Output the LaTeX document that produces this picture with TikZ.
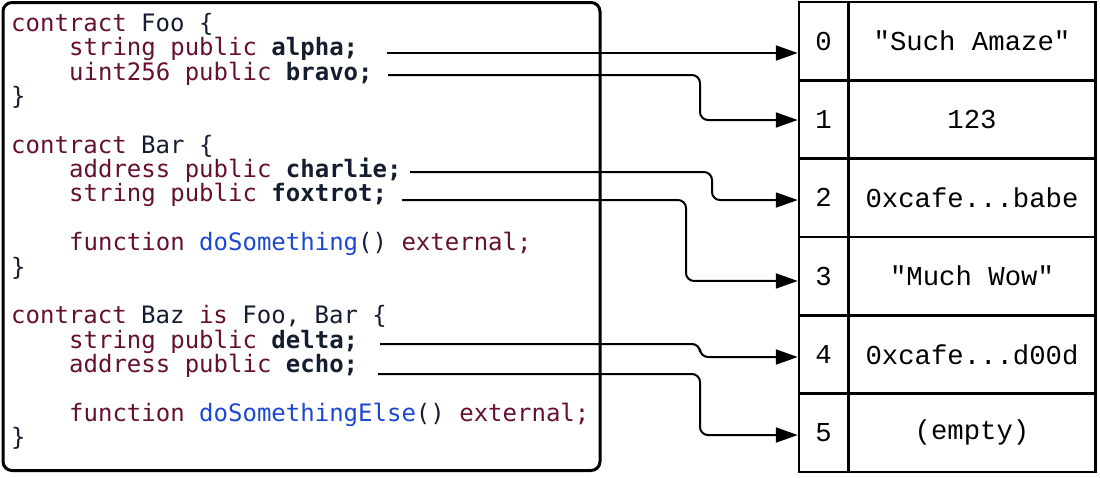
\documentclass[tikz,border=0pt]{standalone}
\usepackage{fontspec}
\setmainfont{Liberation Mono}
\newfontfamily\codefont{DejaVu Sans Mono}
\newfontfamily\tabfont{Liberation Mono}
\usetikzlibrary{arrows.meta}
\definecolor{kwc}{RGB}{102,16,48}
\definecolor{nmc}{RGB}{20,28,48}
\definecolor{fnc}{RGB}{28,72,208}
\newcommand\kw[1]{\textcolor{kwc}{#1}}
\newcommand\nm[1]{\textcolor{nmc}{#1}}
\newcommand\fnn[1]{\textcolor{fnc}{#1}}
\newcommand\idf[1]{\textcolor{nmc}{\bfseries #1}}
\tikzset{
  codeline/.style={anchor=base west, inner sep=0pt, font=\codefont\fontsize{24}{24}\selectfont},
  codebox/.style={draw, line width=3pt, rounded corners=9pt, minimum width=597pt, minimum height=468pt, inner sep=0pt},
  cell/.style={draw, line width=2.5pt, minimum height=78.33pt, inner sep=0pt, font=\tabfont\fontsize{27.3}{28}\selectfont},
  idxcell/.style={cell, minimum width=49pt},
  valcell/.style={cell, minimum width=247pt},
  arr/.style={line width=2pt, rounded corners=8pt, -{Triangle[length=22pt,width=15pt]}}
}
\begin{document}
\begin{tikzpicture}[x=1pt,y=-1pt]
\useasboundingbox (0,0) rectangle (1100,477);
% code box
\node[codebox] (code) at (301.5,236.5) {};
% code lines
\node[codeline] (l1) at (11,31.5) {\kw{contract} \nm{Foo \{}};
\node[codeline] (l2) at (69,55.85) {\kw{string public} \idf{alpha;}};
\node[codeline] (l3) at (69,80.2) {\kw{uint256 public} \idf{bravo;}};
\node[codeline] (l4) at (11,104.55) {\nm{\}}};
\node[codeline] (l6) at (11,153.25) {\kw{contract} \nm{Bar \{}};
\node[codeline] (l7) at (69,177.6) {\kw{address public} \idf{charlie;}};
\node[codeline] (l8) at (69,201.95) {\kw{string public} \idf{foxtrot;}};
\node[codeline] (l10) at (69,250.65) {\kw{function} \fnn{doSomething}\nm{()} \kw{external;}};
\node[codeline] (l11) at (11,275) {\nm{\}}};
\node[codeline] (l13) at (11,323.7) {\kw{contract} \nm{Baz} \kw{is} \nm{Foo, Bar \{}};
\node[codeline] (l14) at (69,348.05) {\kw{string public} \idf{delta;}};
\node[codeline] (l15) at (69,372.4) {\kw{address public} \idf{echo;}};
\node[codeline] (l17) at (69,421.1) {\kw{function} \fnn{doSomethingElse}\nm{()} \kw{external;}};
\node[codeline] (l18) at (11,445.45) {\nm{\}}};
% table
\node[idxcell] (idx0) at (823.5,41.17) {0};
\node[idxcell] (idx1) at (823.5,119.5) {1};
\node[idxcell] (idx2) at (823.5,197.83) {2};
\node[idxcell] (idx3) at (823.5,276.17) {3};
\node[idxcell] (idx4) at (823.5,354.5) {4};
\node[idxcell] (idx5) at (823.5,432.83) {5};
\node[valcell] (val0) at (972,41.17) {"Such Amaze"};
\node[valcell] (val1) at (972,119.5) {123};
\node[valcell] (val2) at (972,197.83) {0xcafe...babe};
\node[valcell] (val3) at (972,276.17) {"Much Wow"};
\node[valcell] (val4) at (972,354.5) {0xcafe...d00d};
\node[valcell] (val5) at (972,432.83) {(empty)};
% arrow starts
\coordinate (sA) at (387,53);
\coordinate (sB) at (388,75);
\coordinate (sC) at (410,172);
\coordinate (sD) at (402,200);
\coordinate (sE) at (380,344);
\coordinate (sF) at (378,374);
% arrows
\draw[arr] (sA) -- (sA -| idx0.west);
\draw[arr] (sB) -- ++(312,0) |- ([yshift=-0.5pt]idx1.west);
\draw[arr] (sC) -- ++(302,0) |- ([yshift=-2.2pt]idx2.west);
\draw[arr] (sD) -- ++(284,0) |- ([yshift=-4.8pt]idx3.west);
\draw[arr] (sE) -- ++(320,0) |- ([yshift=-2.5pt]idx4.west);
\draw[arr] (sF) -- ++(322,0) |- ([yshift=-2.2pt]idx5.west);
\end{tikzpicture}
\end{document}
